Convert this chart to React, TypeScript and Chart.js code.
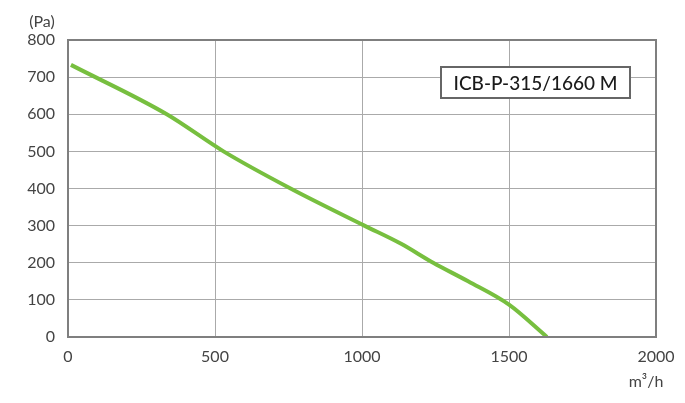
import React, { useEffect, useRef } from 'react';
import Chart from 'chart.js/auto';

// fan curve
const flowValues = [10, 336, 529, 757, 1008, 1133, 1242, 1361, 1500, 1629];
const pressureValues = [733, 600, 500, 400, 300, 251, 200, 150, 87, 0];
const xTicks = [0, 500, 1000, 1500, 2000];
const yTicks = [0, 100, 200, 300, 400, 500, 600, 700, 800];
const modelName = 'ICB-P-315/1660 M';
const yUnit = '(Pa)';
const xUnit = 'm³/h';

const FONT = 'Lato, "Open Sans", sans-serif';

const App: React.FC = () => {
  const chartRef = useRef<Chart<'line'>>();
  const canvasRef = useRef<HTMLCanvasElement>(null);

  useEffect(() => {
    const canvas = canvasRef.current;
    if (!canvas) return;
    if (chartRef.current) chartRef.current.destroy();

    const overlay = {
      id: 'overlay',
      afterDraw(chart: Chart) {
        const { ctx, chartArea } = chart;
        ctx.save();
        // frame around the plot
        ctx.strokeStyle = '#7f7f7f';
        ctx.lineWidth = 2;
        ctx.strokeRect(chartArea.left, chartArea.top, chartArea.right - chartArea.left, chartArea.bottom - chartArea.top);

        // unit labels
        ctx.fillStyle = '#444';
        ctx.font = `16px ${FONT}`;
        ctx.textAlign = 'center';
        ctx.textBaseline = 'middle';
        ctx.fillText(yUnit, 42, 22);
        ctx.fillText(xUnit, 646, 382);

        // model box
        const bx = 441, by = 67, bw = 189, bh = 31;
        ctx.fillStyle = '#fff';
        ctx.fillRect(bx, by, bw, bh);
        ctx.strokeStyle = '#666';
        ctx.lineWidth = 2;
        ctx.strokeRect(bx, by, bw, bh);
        ctx.fillStyle = '#1a1a1a';
        ctx.font = `500 19px ${FONT}`;
        ctx.fillText(modelName, bx + bw / 2, by + bh / 2 + 1);
        ctx.restore();
      },
    };

    chartRef.current = new Chart(canvas, {
      type: 'line',
      data: {
        datasets: [
          {
            data: flowValues.map((x, i) => ({ x, y: pressureValues[i] })),
            borderColor: '#77bf3f',
            borderWidth: 4,
            pointRadius: 0,
            tension: 0.3,
            cubicInterpolationMode: 'monotone',
          },
        ],
      },
      options: {
        animation: false,
        responsive: true,
        maintainAspectRatio: false,
        layout: { padding: { left: 0, right: 29, top: 40, bottom: 0 } },
        plugins: { legend: { display: false }, tooltip: { enabled: false } },
        scales: {
          x: {
            type: 'linear',
            min: 0,
            max: 2000,
            afterBuildTicks: (scale) => {
              scale.ticks = xTicks.map((value) => ({ value }));
            },
            afterFit: (scale) => {
              scale.height = 66;
            },
            grid: { color: '#aaaaaa', lineWidth: 1, drawTicks: false },
            border: { display: false },
            ticks: {
              color: '#444',
              padding: 10,
              font: { family: FONT, size: 16 },
              maxRotation: 0,
              callback: (value) => String(value),
            },
          },
          y: {
            type: 'linear',
            min: 0,
            max: 800,
            afterBuildTicks: (scale) => {
              scale.ticks = yTicks.map((value) => ({ value }));
            },
            afterFit: (scale) => {
              scale.width = 68;
            },
            grid: { color: '#aaaaaa', lineWidth: 1, drawTicks: false },
            border: { display: false },
            ticks: {
              color: '#444',
              padding: 13,
              font: { family: FONT, size: 16 },
              callback: (value) => String(value),
            },
          },
        },
      },
      plugins: [overlay],
    });

    return () => {
      if (chartRef.current) chartRef.current.destroy();
    };
  }, []);

  return (
    <div style={{ position: 'absolute', left: 0, top: 0, width: 685, height: 403, background: '#fff' }}>
      <canvas ref={canvasRef}></canvas>
    </div>
  );
};

export default App;
